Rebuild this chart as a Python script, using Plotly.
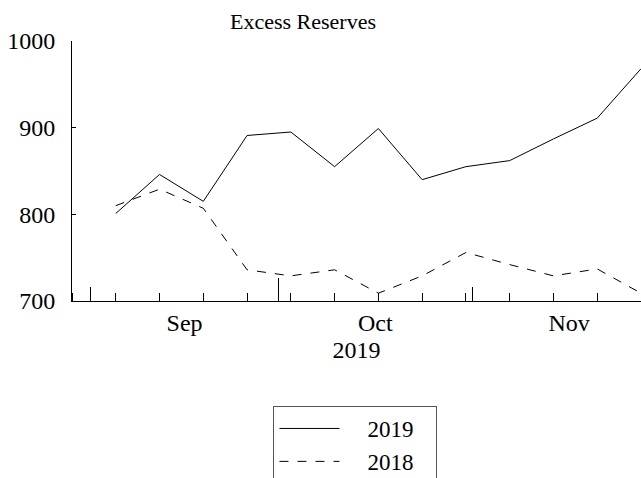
"""Excess reserves, 2019 vs 2018, weekly."""

import plotly.graph_objects as go

DATES = [
    "2019-09-05", "2019-09-12", "2019-09-19", "2019-09-26",
    "2019-10-03", "2019-10-10", "2019-10-17", "2019-10-24",
    "2019-10-31", "2019-11-07", "2019-11-14", "2019-11-21",
    "2019-11-28",
]
RESERVES_2019 = [801, 846, 815, 891, 895, 855, 899, 840, 855, 862, 887, 911, 968]
RESERVES_2018 = [810, 829, 807, 736, 729, 736, 709, 729, 756, 742, 729, 737, 709]
Y_TICKS = [700, 800, 900, 1000]
X_RANGE = ["2019-08-29", "2019-11-28"]
QUARTER_TICK = ["2019-10-01"]

FONT = "Liberation Serif, Times New Roman, serif"
LEAD = "\u00a0" * 4
PAD = "\u00a0" * 3

fig = go.Figure()
fig.add_trace(
    go.Scatter(
        x=DATES,
        y=RESERVES_2019,
        mode="lines",
        name=LEAD + "2019" + PAD,
        line=dict(color="black", width=1),
    )
)
fig.add_trace(
    go.Scatter(
        x=DATES,
        y=RESERVES_2018,
        mode="lines",
        name=LEAD + "2018" + PAD,
        line=dict(color="black", width=1, dash="dash"),
    )
)
# empty trace so the overlay axis (tall October tick) gets drawn
fig.add_trace(
    go.Scatter(
        x=[],
        y=[],
        xaxis="x2",
        showlegend=False,
        hoverinfo="skip",
    )
)

fig.update_layout(
    width=641,
    height=478,
    margin=dict(l=72, r=0, t=41, b=177, autoexpand=False),
    paper_bgcolor="white",
    plot_bgcolor="white",
    font=dict(family=FONT, size=24, color="black"),
    title=dict(
        text="Excess Reserves",
        x=0.4727,
        xref="container",
        xanchor="center",
        y=0.956,
        yref="container",
        yanchor="middle",
        font=dict(family=FONT, size=22, color="black"),
    ),
    showlegend=True,
    legend=dict(
        x=0.5546,
        xref="container",
        xanchor="center",
        y=0.1506,
        yref="container",
        yanchor="top",
        bordercolor="#555555",
        borderwidth=1,
        bgcolor="white",
        font=dict(family=FONT, size=23, color="black"),
        itemwidth=60,
        tracegroupgap=0,
    ),
    xaxis2=dict(
        overlaying="x",
        matches="x",
        anchor="y",
        side="bottom",
        type="date",
        tickvals=QUARTER_TICK,
        ticks="inside",
        ticklen=23,
        tickcolor="black",
        showticklabels=False,
        showgrid=False,
        showline=False,
        zeroline=False,
        automargin=False,
    ),
)

fig.layout.xaxis.update(
    range=X_RANGE,
    type="date",
    dtick="M1",
    tick0="2019-09-01",
    tickformat="%b",
    ticklabelmode="period",
    ticks="inside",
    ticklen=14,
    tickcolor="black",
    showline=True,
    linecolor="black",
    linewidth=1,
    showgrid=False,
    zeroline=False,
    automargin=False,
    title=dict(text="2019", standoff=6, font=dict(family=FONT, size=24)),
    minor=dict(
        ticks="inside",
        ticklen=8,
        tickcolor="black",
        dtick=7 * 24 * 3600 * 1000,
        tick0="2019-09-05",
        showgrid=False,
    ),
)
fig.update_yaxes(
    range=[700, 1000],
    tickvals=Y_TICKS,
    ticks="inside",
    ticklen=4,
    tickcolor="black",
    ticklabelstandoff=11,
    showline=True,
    linecolor="black",
    linewidth=1,
    showgrid=False,
    zeroline=False,
    automargin=False,
)

fig.write_html(
    "out.html",
    config={"displayModeBar": False},
    post_script="document.body.style.margin='0';",
)
